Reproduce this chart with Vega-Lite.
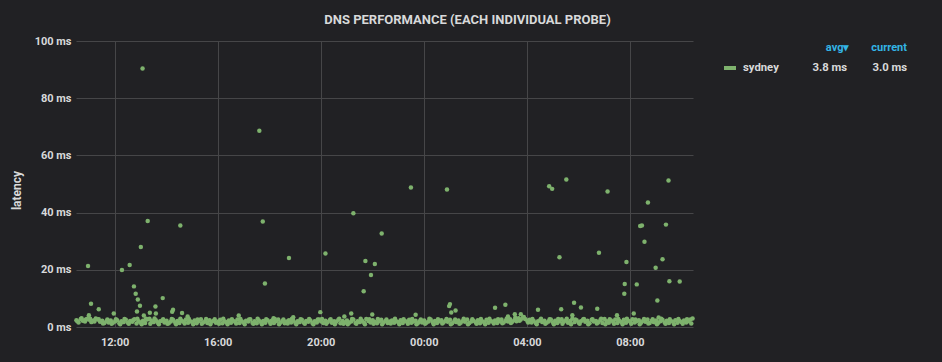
{
"$schema":"https://vega.github.io/schema/vega-lite/v6.json",
"width":617,"height":286,
"autosize":{"type":"none"},
"padding":{"left":76,"top":41,"right":249,"bottom":35},
"background":"#212124",
"title":{"text":"DNS PERFORMANCE (EACH INDIVIDUAL PROBE)","anchor":"middle","frame":"group","dx":83,"offset":-2,"baseline":"alphabetic","font":"Roboto","fontSize":13,"fontWeight":"bold","color":"#d8d9da"},
"data":{"format":{"parse":{"t":"date:'%d %H:%M'"}},"values":[
{"t":"01 10:31","v":2.4},{"t":"01 10:36","v":1.6},{"t":"01 10:41","v":2.8},{"t":"01 10:46","v":2.2},{"t":"01 10:51","v":1.9},{"t":"01 10:56","v":2.9},
{"t":"01 11:01","v":2.5},{"t":"01 11:06","v":1.7},{"t":"01 11:11","v":2.3},{"t":"01 11:16","v":3.0},{"t":"01 11:21","v":2.6},{"t":"01 11:26","v":1.8},{"t":"01 11:31","v":2.2},{"t":"01 11:36","v":1.4},{"t":"01 11:41","v":2.0},{"t":"01 11:46","v":1.6},{"t":"01 11:51","v":2.3},{"t":"01 11:56","v":1.5},
{"t":"01 12:01","v":1.9},{"t":"01 12:06","v":2.4},{"t":"01 12:11","v":1.3},{"t":"01 12:16","v":2.0},{"t":"01 12:21","v":1.7},{"t":"01 12:26","v":2.5},{"t":"01 12:31","v":1.5},{"t":"01 12:36","v":2.1},{"t":"01 12:41","v":1.8},{"t":"01 12:46","v":2.7},{"t":"01 12:51","v":1.2},{"t":"01 12:56","v":2.0},
{"t":"01 13:01","v":1.6},{"t":"01 13:06","v":2.2},{"t":"01 13:11","v":1.4},{"t":"01 13:16","v":2.6},{"t":"01 13:21","v":2.9},{"t":"01 13:26","v":2.1},{"t":"01 13:31","v":1.7},{"t":"01 13:36","v":2.4},{"t":"01 13:41","v":1.5},{"t":"01 13:46","v":2.0},{"t":"01 13:51","v":2.3},{"t":"01 13:56","v":1.6},
{"t":"01 14:01","v":2.2},{"t":"01 14:06","v":1.3},{"t":"01 14:11","v":1.9},{"t":"01 14:16","v":2.5},{"t":"01 14:21","v":1.6},{"t":"01 14:26","v":2.1},{"t":"01 14:31","v":1.4},{"t":"01 14:36","v":2.2},{"t":"01 14:41","v":1.8},{"t":"01 14:46","v":2.6},{"t":"01 14:51","v":1.5},{"t":"01 14:56","v":2.0},
{"t":"01 15:01","v":1.7},{"t":"01 15:06","v":2.3},{"t":"01 15:11","v":1.3},{"t":"01 15:16","v":2.1},{"t":"01 15:21","v":2.7},{"t":"01 15:26","v":1.6},{"t":"01 15:31","v":2.0},{"t":"01 15:36","v":1.4},{"t":"01 15:41","v":2.4},{"t":"01 15:46","v":1.8},{"t":"01 15:51","v":2.2},{"t":"01 15:56","v":1.5},
{"t":"01 16:01","v":1.9},{"t":"01 16:06","v":2.5},{"t":"01 16:11","v":1.3},{"t":"01 16:16","v":2.0},{"t":"01 16:21","v":1.7},{"t":"01 16:26","v":2.3},{"t":"01 16:31","v":1.5},{"t":"01 16:36","v":2.1},{"t":"01 16:41","v":1.8},{"t":"01 16:46","v":2.6},{"t":"01 16:51","v":1.4},{"t":"01 16:56","v":2.0},
{"t":"01 17:01","v":1.6},{"t":"01 17:06","v":2.2},{"t":"01 17:11","v":1.9},{"t":"01 17:16","v":2.7},{"t":"01 17:21","v":1.5},{"t":"01 17:26","v":2.0},{"t":"01 17:31","v":1.3},{"t":"01 17:36","v":2.3},{"t":"01 17:41","v":1.7},{"t":"01 17:46","v":2.1},{"t":"01 17:51","v":1.5},{"t":"01 17:56","v":2.4},
{"t":"01 18:01","v":1.8},{"t":"01 18:06","v":2.2},{"t":"01 18:11","v":1.4},{"t":"01 18:16","v":2.0},{"t":"01 18:21","v":2.6},{"t":"01 18:26","v":1.6},{"t":"01 18:31","v":2.1},{"t":"01 18:36","v":1.3},{"t":"01 18:41","v":1.9},{"t":"01 18:46","v":2.4},{"t":"01 18:51","v":1.6},{"t":"01 18:56","v":2.2},
{"t":"01 19:01","v":1.4},{"t":"01 19:06","v":2.0},{"t":"01 19:11","v":1.7},{"t":"01 19:16","v":2.5},{"t":"01 19:21","v":1.5},{"t":"01 19:26","v":2.1},{"t":"01 19:31","v":1.8},{"t":"01 19:36","v":2.3},{"t":"01 19:41","v":1.3},{"t":"01 19:46","v":2.0},{"t":"01 19:51","v":1.6},{"t":"01 19:56","v":2.6},
{"t":"01 20:01","v":1.9},{"t":"01 20:06","v":1.4},{"t":"01 20:11","v":2.2},{"t":"01 20:16","v":1.7},{"t":"01 20:21","v":2.4},{"t":"01 20:26","v":1.5},{"t":"01 20:31","v":2.0},{"t":"01 20:36","v":1.8},{"t":"01 20:41","v":2.5},{"t":"01 20:46","v":1.3},{"t":"01 20:51","v":2.1},{"t":"01 20:56","v":1.6},
{"t":"01 21:01","v":2.3},{"t":"01 21:06","v":1.5},{"t":"01 21:11","v":1.9},{"t":"01 21:16","v":2.6},{"t":"01 21:21","v":1.4},{"t":"01 21:26","v":2.0},{"t":"01 21:31","v":1.7},{"t":"01 21:36","v":2.2},{"t":"01 21:41","v":1.5},{"t":"01 21:46","v":2.8},{"t":"01 21:51","v":2.1},{"t":"01 21:56","v":1.6},
{"t":"01 22:01","v":2.4},{"t":"01 22:06","v":1.8},{"t":"01 22:11","v":1.3},{"t":"01 22:16","v":2.0},{"t":"01 22:21","v":2.5},{"t":"01 22:26","v":1.6},{"t":"01 22:31","v":2.1},{"t":"01 22:36","v":1.4},{"t":"01 22:41","v":1.9},{"t":"01 22:46","v":2.3},{"t":"01 22:51","v":1.5},{"t":"01 22:56","v":2.0},
{"t":"01 23:01","v":1.7},{"t":"01 23:06","v":2.4},{"t":"01 23:11","v":1.4},{"t":"01 23:16","v":2.1},{"t":"01 23:21","v":1.8},{"t":"01 23:26","v":2.5},{"t":"01 23:31","v":1.5},{"t":"01 23:36","v":1.9},{"t":"01 23:41","v":2.2},{"t":"01 23:46","v":1.3},{"t":"01 23:51","v":2.0},{"t":"01 23:56","v":1.6},
{"t":"02 00:01","v":2.3},{"t":"02 00:06","v":1.5},{"t":"02 00:11","v":1.9},{"t":"02 00:16","v":2.6},{"t":"02 00:21","v":1.7},{"t":"02 00:26","v":2.1},{"t":"02 00:31","v":1.4},{"t":"02 00:36","v":2.0},{"t":"02 00:41","v":2.4},{"t":"02 00:46","v":1.6},{"t":"02 00:51","v":2.2},{"t":"02 00:56","v":1.8},
{"t":"02 01:01","v":2.5},{"t":"02 01:06","v":1.3},{"t":"02 01:11","v":2.0},{"t":"02 01:16","v":1.7},{"t":"02 01:21","v":2.3},{"t":"02 01:26","v":1.5},{"t":"02 01:31","v":2.1},{"t":"02 01:36","v":1.8},{"t":"02 01:41","v":2.6},{"t":"02 01:46","v":1.4},{"t":"02 01:51","v":1.9},{"t":"02 01:56","v":2.2},
{"t":"02 02:01","v":1.6},{"t":"02 02:06","v":2.4},{"t":"02 02:11","v":1.3},{"t":"02 02:16","v":2.0},{"t":"02 02:21","v":1.7},{"t":"02 02:26","v":2.5},{"t":"02 02:31","v":1.5},{"t":"02 02:36","v":2.1},{"t":"02 02:41","v":1.8},{"t":"02 02:46","v":2.3},{"t":"02 02:51","v":1.4},{"t":"02 02:56","v":2.0},
{"t":"02 03:01","v":2.6},{"t":"02 03:06","v":1.6},{"t":"02 03:11","v":2.2},{"t":"02 03:16","v":1.9},{"t":"02 03:21","v":2.7},{"t":"02 03:26","v":1.8},{"t":"02 03:31","v":2.4},{"t":"02 03:36","v":2.0},{"t":"02 03:41","v":3.1},{"t":"02 03:46","v":2.6},{"t":"02 03:51","v":3.3},{"t":"02 03:56","v":2.8},
{"t":"02 04:01","v":2.2},{"t":"02 04:06","v":2.5},{"t":"02 04:11","v":1.6},{"t":"02 04:16","v":2.1},{"t":"02 04:21","v":1.4},{"t":"02 04:26","v":2.0},{"t":"02 04:31","v":2.4},{"t":"02 04:36","v":1.7},{"t":"02 04:41","v":2.2},{"t":"02 04:46","v":1.5},{"t":"02 04:51","v":1.9},{"t":"02 04:56","v":2.6},
{"t":"02 05:01","v":1.6},{"t":"02 05:06","v":2.2},{"t":"02 05:11","v":1.4},{"t":"02 05:16","v":2.0},{"t":"02 05:21","v":2.7},{"t":"02 05:26","v":1.8},{"t":"02 05:31","v":2.3},{"t":"02 05:36","v":1.5},{"t":"02 05:41","v":2.1},{"t":"02 05:46","v":2.9},{"t":"02 05:51","v":1.7},{"t":"02 05:56","v":2.4},
{"t":"02 06:01","v":1.5},{"t":"02 06:06","v":2.0},{"t":"02 06:11","v":2.6},{"t":"02 06:16","v":1.8},{"t":"02 06:21","v":2.2},{"t":"02 06:26","v":1.3},{"t":"02 06:31","v":2.5},{"t":"02 06:36","v":1.9},{"t":"02 06:41","v":2.1},{"t":"02 06:46","v":1.6},{"t":"02 06:51","v":2.4},{"t":"02 06:56","v":1.4},
{"t":"02 07:01","v":2.8},{"t":"02 07:06","v":2.0},{"t":"02 07:11","v":1.5},{"t":"02 07:16","v":2.3},{"t":"02 07:21","v":1.8},{"t":"02 07:26","v":2.6},{"t":"02 07:31","v":1.4},{"t":"02 07:36","v":2.1},{"t":"02 07:41","v":1.7},{"t":"02 07:46","v":2.5},{"t":"02 07:51","v":1.5},{"t":"02 07:56","v":2.2},
{"t":"02 08:01","v":1.8},{"t":"02 08:06","v":2.7},{"t":"02 08:11","v":1.6},{"t":"02 08:16","v":2.0},{"t":"02 08:21","v":2.4},{"t":"02 08:26","v":1.5},{"t":"02 08:31","v":2.2},{"t":"02 08:36","v":1.8},{"t":"02 08:41","v":2.6},{"t":"02 08:46","v":1.4},{"t":"02 08:51","v":2.1},{"t":"02 08:56","v":1.7},
{"t":"02 09:01","v":2.3},{"t":"02 09:06","v":1.5},{"t":"02 09:11","v":2.0},{"t":"02 09:16","v":2.5},{"t":"02 09:21","v":1.6},{"t":"02 09:26","v":2.2},{"t":"02 09:31","v":1.4},{"t":"02 09:36","v":2.0},{"t":"02 09:41","v":1.8},{"t":"02 09:46","v":2.4},{"t":"02 09:51","v":1.5},{"t":"02 09:56","v":2.1},
{"t":"02 10:01","v":1.7},{"t":"02 10:06","v":2.3},{"t":"02 10:11","v":1.6},{"t":"02 10:16","v":2.0},{"t":"02 10:21","v":2.6},{"t":"02 10:26","v":3.0},
{"t":"01 10:33","v":2.0},{"t":"01 10:43","v":3.1},{"t":"01 10:53","v":2.6},{"t":"01 11:03","v":2.9},{"t":"01 11:13","v":1.9},{"t":"01 11:23","v":2.7},{"t":"01 11:33","v":1.2},{"t":"01 11:43","v":2.6},{"t":"01 11:53","v":1.1},
{"t":"01 12:03","v":2.7},{"t":"01 12:13","v":1.0},{"t":"01 12:23","v":2.8},{"t":"01 12:33","v":1.1},{"t":"01 12:43","v":2.4},{"t":"01 12:53","v":2.9},{"t":"01 13:03","v":1.0},{"t":"01 13:13","v":2.9},{"t":"01 13:23","v":1.1},{"t":"01 13:33","v":3.0},{"t":"01 13:43","v":1.0},{"t":"01 13:53","v":2.7},
{"t":"01 14:03","v":1.1},{"t":"01 14:13","v":2.8},{"t":"01 14:23","v":1.0},{"t":"01 14:33","v":2.9},{"t":"01 14:43","v":1.2},{"t":"01 14:53","v":2.8},
{"t":"01 15:03","v":1.0},{"t":"01 15:13","v":2.6},{"t":"01 15:23","v":1.1},{"t":"01 15:33","v":2.8},{"t":"01 15:43","v":1.0},{"t":"01 15:53","v":2.7},
{"t":"01 16:03","v":1.1},{"t":"01 16:13","v":2.9},{"t":"01 16:23","v":1.0},{"t":"01 16:33","v":2.7},{"t":"01 16:43","v":1.2},{"t":"01 16:53","v":2.8},
{"t":"01 17:03","v":1.0},{"t":"01 17:13","v":2.6},{"t":"01 17:23","v":1.1},{"t":"01 17:33","v":2.9},{"t":"01 17:43","v":1.0},{"t":"01 17:53","v":2.7},
{"t":"01 18:03","v":1.1},{"t":"01 18:13","v":2.8},{"t":"01 18:23","v":1.0},{"t":"01 18:33","v":2.6},{"t":"01 18:43","v":1.2},{"t":"01 18:53","v":2.9},
{"t":"01 19:03","v":1.0},{"t":"01 19:13","v":2.7},{"t":"01 19:23","v":1.1},{"t":"01 19:33","v":2.8},{"t":"01 19:43","v":1.0},{"t":"01 19:53","v":2.6},
{"t":"01 20:03","v":2.8},{"t":"01 20:13","v":1.1},{"t":"01 20:23","v":2.7},{"t":"01 20:33","v":1.0},{"t":"01 20:43","v":2.9},{"t":"01 20:53","v":1.1},
{"t":"01 21:03","v":1.0},{"t":"01 21:13","v":2.8},{"t":"01 21:23","v":1.1},{"t":"01 21:33","v":2.9},{"t":"01 21:43","v":1.0},{"t":"01 21:53","v":2.7},
{"t":"01 22:03","v":1.1},{"t":"01 22:13","v":2.8},{"t":"01 22:23","v":1.0},{"t":"01 22:33","v":2.6},{"t":"01 22:43","v":1.2},{"t":"01 22:53","v":2.9},
{"t":"01 23:03","v":1.0},{"t":"01 23:13","v":2.7},{"t":"01 23:23","v":1.1},{"t":"01 23:33","v":2.8},{"t":"01 23:43","v":1.0},{"t":"01 23:53","v":2.6},
{"t":"02 00:03","v":1.1},{"t":"02 00:13","v":2.9},{"t":"02 00:23","v":1.0},{"t":"02 00:33","v":2.7},{"t":"02 00:43","v":1.2},{"t":"02 00:53","v":2.8},
{"t":"02 01:03","v":1.0},{"t":"02 01:13","v":2.6},{"t":"02 01:23","v":1.1},{"t":"02 01:33","v":2.9},{"t":"02 01:43","v":1.0},{"t":"02 01:53","v":2.7},
{"t":"02 02:03","v":1.1},{"t":"02 02:13","v":2.8},{"t":"02 02:23","v":1.0},{"t":"02 02:33","v":2.9},{"t":"02 02:43","v":1.2},{"t":"02 02:53","v":2.7},
{"t":"02 03:03","v":1.3},{"t":"02 03:13","v":2.9},{"t":"02 03:23","v":1.4},{"t":"02 03:33","v":3.2},{"t":"02 03:43","v":2.2},{"t":"02 03:53","v":3.5},
{"t":"02 04:03","v":1.6},{"t":"02 04:13","v":2.8},{"t":"02 04:23","v":1.0},{"t":"02 04:33","v":2.9},{"t":"02 04:43","v":1.1},{"t":"02 04:53","v":2.7},
{"t":"02 05:03","v":1.0},{"t":"02 05:13","v":2.8},{"t":"02 05:23","v":1.1},{"t":"02 05:33","v":2.9},{"t":"02 05:43","v":1.0},{"t":"02 05:53","v":2.6},
{"t":"02 06:03","v":1.1},{"t":"02 06:13","v":2.8},{"t":"02 06:23","v":1.0},{"t":"02 06:33","v":2.7},{"t":"02 06:43","v":1.2},{"t":"02 06:53","v":2.9},
{"t":"02 07:03","v":1.0},{"t":"02 07:13","v":2.7},{"t":"02 07:23","v":1.1},{"t":"02 07:33","v":2.8},{"t":"02 07:43","v":1.0},{"t":"02 07:53","v":2.9},
{"t":"02 08:03","v":1.1},{"t":"02 08:13","v":2.6},{"t":"02 08:23","v":1.0},{"t":"02 08:33","v":2.8},{"t":"02 08:43","v":1.2},{"t":"02 08:53","v":2.7},
{"t":"02 09:03","v":1.0},{"t":"02 09:13","v":2.9},{"t":"02 09:23","v":1.1},{"t":"02 09:33","v":2.7},{"t":"02 09:43","v":1.0},{"t":"02 09:53","v":2.8},
{"t":"02 10:03","v":1.1},{"t":"02 10:13","v":2.7},{"t":"02 10:23","v":1.2},
{"t":"01 10:58","v":21.3},{"t":"01 13:05","v":90.4},{"t":"01 13:17","v":37.1},{"t":"01 14:33","v":35.5},{"t":"01 12:17","v":19.9},{"t":"01 12:35","v":21.7},{"t":"01 13:01","v":28.0},{"t":"01 12:45","v":14.2},{"t":"01 12:49","v":11.6},{"t":"01 12:54","v":9.6},{"t":"01 12:59","v":7.4},{"t":"01 12:52","v":5.4},{"t":"01 13:08","v":4.0},
{"t":"01 11:05","v":8.1},{"t":"01 11:23","v":6.2},{"t":"01 11:58","v":4.7},{"t":"01 11:00","v":4.1},{"t":"01 13:35","v":7.2},{"t":"01 13:52","v":10.1},{"t":"01 13:22","v":5.0},{"t":"01 13:36","v":4.7},{"t":"01 14:16","v":6.0},{"t":"01 14:14","v":5.3},{"t":"01 14:37","v":4.9},{"t":"01 14:50","v":3.7},{"t":"01 16:49","v":4.0},
{"t":"01 17:37","v":68.6},{"t":"01 17:45","v":36.9},{"t":"01 17:50","v":15.2},{"t":"01 18:46","v":24.1},{"t":"01 18:10","v":3.1},{"t":"01 18:56","v":3.4},{"t":"01 20:11","v":25.7},{"t":"01 19:59","v":5.2},{"t":"01 20:55","v":3.7},{"t":"01 21:11","v":4.7},{"t":"01 21:16","v":39.8},{"t":"01 21:40","v":12.5},
{"t":"01 21:44","v":23.1},{"t":"01 21:57","v":18.2},{"t":"01 22:06","v":22.0},{"t":"01 22:00","v":4.4},{"t":"01 22:22","v":32.7},{"t":"01 23:30","v":48.8},{"t":"01 23:41","v":4.3},{"t":"02 00:54","v":48.1},{"t":"02 01:01","v":8.0},{"t":"02 00:59","v":7.3},{"t":"02 01:14","v":5.8},{"t":"02 01:04","v":5.1},
{"t":"02 02:46","v":6.7},{"t":"02 03:10","v":7.8},{"t":"02 03:16","v":3.7},{"t":"02 03:32","v":4.5},{"t":"02 03:46","v":4.5},{"t":"02 04:26","v":6.0},{"t":"02 04:52","v":49.2},{"t":"02 04:59","v":48.3},{"t":"02 05:16","v":24.4},{"t":"02 05:20","v":6.2},{"t":"02 05:32","v":51.6},{"t":"02 05:50","v":8.5},
{"t":"02 05:46","v":4.1},{"t":"02 06:06","v":6.8},{"t":"02 06:44","v":6.4},{"t":"02 06:48","v":26.0},{"t":"02 07:08","v":47.4},{"t":"02 07:30","v":4.1},{"t":"02 07:47","v":11.6},{"t":"02 07:48","v":15.0},{"t":"02 07:52","v":22.7},{"t":"02 08:09","v":4.7},{"t":"02 08:16","v":14.9},{"t":"02 08:24","v":35.3},
{"t":"02 08:28","v":35.5},{"t":"02 08:34","v":29.8},{"t":"02 08:42","v":43.5},{"t":"02 09:00","v":20.7},{"t":"02 09:04","v":9.3},{"t":"02 09:07","v":3.3},{"t":"02 09:16","v":23.7},{"t":"02 09:24","v":35.8},{"t":"02 09:30","v":51.2},{"t":"02 09:32","v":16.0},{"t":"02 09:56","v":15.9}
]},
"mark":{"type":"point","filled":true,"size":20,"opacity":1},
"encoding":{
"x":{"field":"t","type":"temporal",
"scale":{"domain":[{"year":1900,"month":1,"date":1,"hours":10,"minutes":30},{"year":1900,"month":1,"date":2,"hours":10,"minutes":27}]},
"axis":{"title":null,"format":"%H:%M","values":[{"year":1900,"month":1,"date":1,"hours":12},{"year":1900,"month":1,"date":1,"hours":16},{"year":1900,"month":1,"date":1,"hours":20},{"year":1900,"month":1,"date":2,"hours":0},{"year":1900,"month":1,"date":2,"hours":4},{"year":1900,"month":1,"date":2,"hours":8}],"domain":false,"ticks":false,"grid":true,"labelPadding":9,"labelFlush":false}},
"y":{"field":"v","type":"quantitative","scale":{"domain":[0,100],"nice":false},
"axis":{"title":"latency","values":[0,20,40,60,80,100],"labelExpr":"datum.value + ' ms'","domain":false,"ticks":false,"grid":true,"labelPadding":5,"titlePadding":11,"titleY":149}},
"color":{"datum":"sydney","type":"nominal","scale":{"range":["#7eb26d"]},
"legend":{"orient":"none","legendX":646,"legendY":1,"padding":0,
"title":"avg▾\u00a0\u00a0\u00a0\u00a0\u00a0\u00a0\u00a0\u00a0current","titleColor":"#33b5e5","titleFont":"Roboto","titleFontSize":11,"titleFontWeight":"bold","titleAnchor":"end","titlePadding":7,"titleLimit":0,
"labelExpr":"datum.label + '\u00a0\u00a0\u00a0\u00a0\u00a0\u00a0\u00a0\u00a0\u00a0\u00a0\u00a0\u00a03.8 ms\u00a0\u00a0\u00a0\u00a0\u00a0\u00a0\u00a0\u00a0\u00a03.0 ms'",
"labelColor":"#d8d9da","labelFont":"Roboto","labelFontSize":11.3,"labelFontWeight":"bold","labelOffset":5,"labelLimit":0,
"symbolType":"stroke","symbolStrokeColor":"#7eb26d","symbolStrokeWidth":4,"symbolSize":144}}
},
"config":{
"view":{"stroke":null},
"axis":{"gridColor":"#464648","gridWidth":1,"gridOpacity":1,"labelColor":"#d8d9da","labelFont":"Roboto","labelFontSize":11,"labelFontWeight":"bold","titleColor":"#d8d9da","titleFont":"Roboto","titleFontSize":12,"titleFontWeight":"bold"}
}
}
